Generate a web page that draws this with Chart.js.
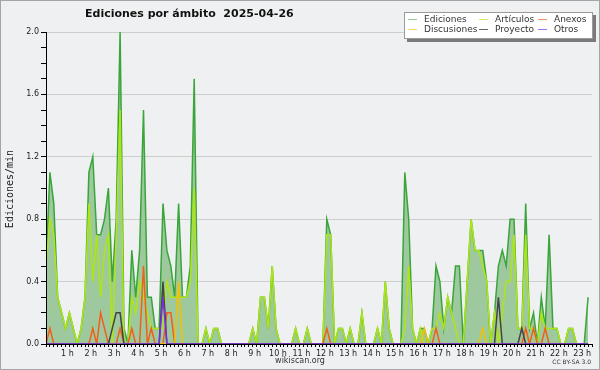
<!DOCTYPE html>
<html>
<head>
<meta charset="utf-8">
<script src="https://cdn.jsdelivr.net/npm/chart.js@4.4.0/dist/chart.umd.min.js"></script>
<style>
  html, body { margin: 0; padding: 0; background: #eff0f1; }
  canvas { display: block; }
</style>
</head>
<body>
<canvas id="grafico" width="600" height="370"></canvas>
<script>
// ---------- datos: ediciones/min, un punto cada 10 minutos ----------

const ediciones = [
  0.5, 1.1, 0.9, 0.3, 0.2, 0.1, 0.2, 0.1, 0, 0.1, 0.3, 1.1, 1.2, 0.7, 0.7, 0.8, 1.0, 0.4, 0.8, 2.0,
  0.1, 0, 0.6, 0.3, 0.6, 1.5, 0.3, 0.3, 0.1, 0.1, 0.9, 0.6, 0.5, 0.3, 0.9, 0.3, 0.3, 0.5, 1.7, 0,
  0, 0.1, 0, 0.1, 0.1, 0, 0, 0, 0, 0, 0, 0, 0, 0.1, 0, 0.3, 0.3, 0.1, 0.5, 0.1,
  0, 0, 0, 0, 0.1, 0, 0, 0.1, 0, 0, 0, 0, 0.8, 0.7, 0, 0.1, 0.1, 0, 0.1, 0,
  0, 0.2, 0, 0, 0, 0.1, 0, 0.4, 0.1, 0, 0, 0, 1.1, 0.8, 0.1, 0, 0.1, 0.1, 0, 0.1,
  0.5, 0.4, 0.1, 0.3, 0.2, 0.5, 0.5, 0, 0.4, 0.8, 0.6, 0.6, 0.6, 0.4, 0, 0.2, 0.5, 0.6, 0.5, 0.8,
  0.8, 0.1, 0.1, 0.9, 0.1, 0.2, 0, 0.3, 0.1, 0.7, 0.1, 0.1, 0, 0, 0.1, 0.1, 0, 0, 0, 0.3
];

const articulos = [
  0.5, 0.8, 0.7, 0.3, 0.2, 0.1, 0.2, 0.1, 0, 0.1, 0.3, 0.9, 0.4, 0.7, 0.3, 0.6, 0.7, 0, 0.7, 1.5,
  0, 0, 0.3, 0.2, 0.4, 0.3, 0.2, 0.1, 0.1, 0.1, 0.1, 0.4, 0.3, 0.3, 0.3, 0.3, 0.3, 0.4, 1.0, 0,
  0, 0.1, 0, 0.1, 0.1, 0, 0, 0, 0, 0, 0, 0, 0, 0.1, 0, 0.3, 0.3, 0.1, 0.5, 0.1,
  0, 0, 0, 0, 0.1, 0, 0, 0.1, 0, 0, 0, 0, 0.7, 0.7, 0, 0.1, 0.1, 0, 0.1, 0,
  0, 0.2, 0, 0, 0, 0.1, 0, 0.4, 0.1, 0, 0, 0, 0.1, 0.5, 0.1, 0, 0.1, 0, 0, 0.1,
  0.1, 0.2, 0.1, 0.3, 0.2, 0.1, 0, 0, 0.4, 0.8, 0.6, 0.6, 0.5, 0.4, 0, 0.2, 0, 0.2, 0.4, 0.4,
  0.7, 0.1, 0.1, 0.7, 0.1, 0.1, 0, 0.2, 0.1, 0.1, 0.1, 0.1, 0, 0, 0.1, 0.1, 0, 0, 0, 0
];

const anexos = [
  0, 0.1, 0, 0, 0, 0, 0, 0, 0, 0, 0, 0, 0.1, 0, 0.2, 0.1, 0, 0, 0, 0.1,
  0, 0, 0.1, 0, 0, 0.5, 0, 0.1, 0, 0, 0, 0.2, 0.2, 0, 0, 0, 0, 0, 0, 0,
  0, 0, 0, 0, 0, 0, 0, 0, 0, 0, 0, 0, 0, 0, 0, 0, 0, 0, 0, 0,
  0, 0, 0, 0, 0, 0, 0, 0, 0, 0, 0, 0, 0.1, 0, 0, 0, 0, 0, 0, 0,
  0, 0, 0, 0, 0, 0, 0, 0, 0, 0, 0, 0, 0, 0, 0, 0, 0, 0, 0, 0,
  0.1, 0, 0, 0, 0, 0, 0, 0, 0, 0, 0, 0, 0, 0, 0, 0, 0, 0, 0, 0,
  0, 0, 0, 0.1, 0, 0.1, 0, 0, 0.1, 0, 0, 0, 0, 0, 0, 0, 0, 0, 0, 0
];

const discusiones = [
  0, 0, 0, 0, 0, 0, 0, 0, 0, 0, 0, 0, 0, 0, 0, 0, 0, 0, 0, 0,
  0, 0, 0, 0, 0, 0, 0, 0, 0, 0, 0, 0, 0, 0, 0.4, 0, 0, 0, 0, 0,
  0, 0, 0, 0, 0, 0, 0, 0, 0, 0, 0, 0, 0, 0, 0, 0, 0, 0, 0, 0,
  0, 0, 0, 0, 0, 0, 0, 0, 0, 0, 0, 0, 0, 0, 0, 0, 0, 0, 0, 0,
  0, 0, 0, 0, 0, 0, 0, 0, 0, 0, 0, 0, 0, 0, 0, 0, 0, 0.1, 0, 0,
  0, 0, 0, 0, 0, 0, 0, 0, 0, 0, 0, 0, 0.1, 0, 0, 0, 0, 0, 0, 0,
  0, 0, 0, 0, 0, 0, 0, 0, 0, 0, 0, 0, 0, 0, 0, 0, 0, 0, 0, 0
];

const proyecto = [
  0, 0, 0, 0, 0, 0, 0, 0, 0, 0, 0, 0, 0, 0, 0, 0, 0, 0.1, 0.2, 0.2,
  0, 0, 0, 0, 0, 0, 0, 0, 0, 0, 0.4, 0, 0, 0, 0, 0, 0, 0, 0, 0,
  0, 0, 0, 0, 0, 0, 0, 0, 0, 0, 0, 0, 0, 0, 0, 0, 0, 0, 0, 0,
  0, 0, 0, 0, 0, 0, 0, 0, 0, 0, 0, 0, 0, 0, 0, 0, 0, 0, 0, 0,
  0, 0, 0, 0, 0, 0, 0, 0, 0, 0, 0, 0, 0, 0, 0, 0, 0, 0, 0, 0,
  0, 0, 0, 0, 0, 0, 0, 0, 0, 0, 0, 0, 0, 0, 0, 0, 0.3, 0, 0, 0,
  0, 0, 0.1, 0, 0, 0, 0, 0, 0, 0, 0, 0, 0, 0, 0, 0, 0, 0, 0, 0
];

const otros = [
  0, 0, 0, 0, 0, 0, 0, 0, 0, 0, 0, 0, 0, 0, 0, 0, 0, 0, 0, 0,
  0, 0, 0, 0, 0, 0, 0, 0, 0, 0, 0.3, 0, 0, 0, 0, 0, 0, 0, 0, 0,
  0, 0, 0, 0, 0, 0, 0, 0, 0, 0, 0, 0, 0, 0, 0, 0, 0, 0, 0, 0,
  0, 0, 0, 0, 0, 0, 0, 0, 0, 0, 0, 0, 0, 0, 0, 0, 0, 0, 0, 0,
  0, 0, 0, 0, 0, 0, 0, 0, 0, 0, 0, 0, 0, 0, 0, 0, 0, 0, 0, 0,
  0, 0, 0, 0, 0, 0, 0, 0, 0, 0, 0, 0, 0, 0, 0, 0, 0, 0, 0, 0,
  0, 0, 0, 0, 0, 0, 0, 0, 0, 0, 0, 0, 0, 0, 0, 0, 0, 0, 0, 0
];

const horas = ['1 h', '2 h', '3 h', '4 h', '5 h', '6 h', '7 h', '8 h', '9 h', '10 h', '11 h', '12 h',
  '13 h', '14 h', '15 h', '16 h', '17 h', '18 h', '19 h', '20 h', '21 h', '22 h', '23 h'];
const etiquetasY = ['0.0', '0.4', '0.8', '1.2', '1.6', '2.0'];

const nombres = ['Ediciones', 'Artículos', 'Anexos', 'Discusiones', 'Proyecto', 'Otros'];
const colores = ['#3aa53a', '#aee614', '#f06018', '#f2c200', '#444444', '#7a2ce6'];
const coloresLeyenda = ['#8fcf8f', '#cdf06a', '#f59060', '#f6d860', '#666666', '#a070f0'];

const titulo = 'Ediciones por ámbito  2025-04-26';

// ---------- helpers ----------

function puntos(valores) {
    return valores.map((v, i) => ({ x: i, y: v }));
}

function serie(idx, valores, extra) {
    return Object.assign({
        label: nombres[idx],
        data: puntos(valores),
        borderColor: colores[idx],
        borderWidth: 1.5,
        pointRadius: 0,
        tension: 0,
        fill: false,
        order: idx
    }, extra || {});
}

// ---------- plugin: fondo, título, leyenda, textos ----------

const decoracion = {
    id: 'decoracion',
    beforeDraw(chart) {
        const c = chart.ctx;
        c.save();
        c.fillStyle = '#eff0f1';
        c.fillRect(0, 0, chart.width, chart.height);
        c.restore();
    },
    afterDraw(chart) {
        const c = chart.ctx;
        const area = chart.chartArea;
        c.save();

        // eje vertical
        c.strokeStyle = '#000';
        c.lineWidth = 1;
        c.beginPath();
        c.moveTo(area.left + 0.5, area.top);
        c.lineTo(area.left + 0.5, area.bottom);
        c.stroke();

        // marco exterior
        c.strokeStyle = '#a4a4a4';
        c.strokeRect(0.5, 0.5, chart.width - 1, chart.height - 1);

        // título
        c.fillStyle = '#111';
        c.font = 'bold 11px "DejaVu Sans"';
        c.textAlign = 'left';
        c.textBaseline = 'middle';
        c.fillText(titulo, 85, 14);

        // título eje Y
        c.save();
        c.translate(10, 189);
        c.rotate(-Math.PI / 2);
        c.textAlign = 'center';
        c.font = '10px "DejaVu Sans Mono"';
        c.fillStyle = '#222';
        c.fillText('Ediciones/min', 0, 0);
        c.restore();

        // pie
        c.textAlign = 'center';
        c.font = '8px "DejaVu Sans"';
        c.fillStyle = '#333';
        c.fillText('wikiscan.org', 300, 361);
        c.textAlign = 'right';
        c.font = '6px "DejaVu Sans"';
        c.fillText('CC BY-SA 3.0', 591, 362);

        // leyenda
        c.fillStyle = '#7a7a7a';
        c.fillRect(407, 15, 189, 27);
        c.fillStyle = '#fff';
        c.fillRect(404, 12, 189, 27);
        c.strokeStyle = '#9a9a9a';
        c.strokeRect(404.5, 12.5, 188, 26);

        const colX = [408, 479, 538];
        const filaY = [19.5, 29.5];
        c.font = '9px "DejaVu Sans"';
        c.textAlign = 'left';
        nombres.forEach((n, i) => {
            const x = colX[i % 3];
            const y = filaY[Math.floor(i / 3)];
            c.strokeStyle = coloresLeyenda[i];
            c.beginPath();
            c.moveTo(x, y);
            c.lineTo(x + 9, y);
            c.stroke();
            c.fillStyle = '#333';
            c.fillText(n, x + 16, y + 0.5);
        });

        c.restore();
    }
};

// ---------- gráfico ----------

const ctx = document.getElementById('grafico');

new Chart(ctx, {
    type: 'line',
    data: {
        datasets: [
            serie(0, ediciones, { fill: 'origin', backgroundColor: '#9ec99e', order: 6 }),
            serie(1, articulos, { order: 5 }),
            serie(2, anexos, { order: 4 }),
            serie(3, discusiones, { order: 3 }),
            serie(4, proyecto, { order: 2 }),
            serie(5, otros, { order: 1 })
        ]
    },
    options: {
        responsive: false,
        animation: false,
        events: [],
        layout: { padding: { left: 0, right: 8, top: 32, bottom: 0 } },
        plugins: {
            legend: { display: false },
            tooltip: { enabled: false }
        },
        scales: {
            x: {
                type: 'linear',
                min: 0,
                max: 140,
                z: 1,
                afterFit(scale) { scale.height = 26; },
                border: { display: true, color: '#000', width: 1 },
                grid: {
                    drawOnChartArea: false,
                    drawTicks: true,
                    tickLength: 3,
                    tickColor: '#000'
                },
                ticks: {
                    stepSize: 1,
                    autoSkip: false,
                    maxRotation: 0,
                    padding: 2,
                    labelOffset: -2,
                    color: '#222',
                    font: { family: 'DejaVu Sans', size: 8 },
                    callback: v => (v % 6 === 0 && v > 0) ? horas[v / 6 - 1] : ''
                }
            },
            y: {
                min: 0,
                max: 2,
                afterFit(scale) { scale.width = 46; },
                border: { display: false },
                grid: {
                    color: c => (Math.round(c.tick.value * 10) % 4 === 0) ? '#cdcdcd' : 'rgba(0,0,0,0)',
                    tickColor: '#000',
                    tickLength: 5
                },
                ticks: {
                    stepSize: 0.1,
                    autoSkip: false,
                    padding: 2,
                    color: '#222',
                    font: { family: 'DejaVu Sans', size: 8 },
                    callback: v => {
                        const k = Math.round(v * 10);
                        return k % 4 === 0 ? etiquetasY[k / 4] : '';
                    }
                }
            }
        }
    },
    plugins: [decoracion]
});
</script>
</body>
</html>
